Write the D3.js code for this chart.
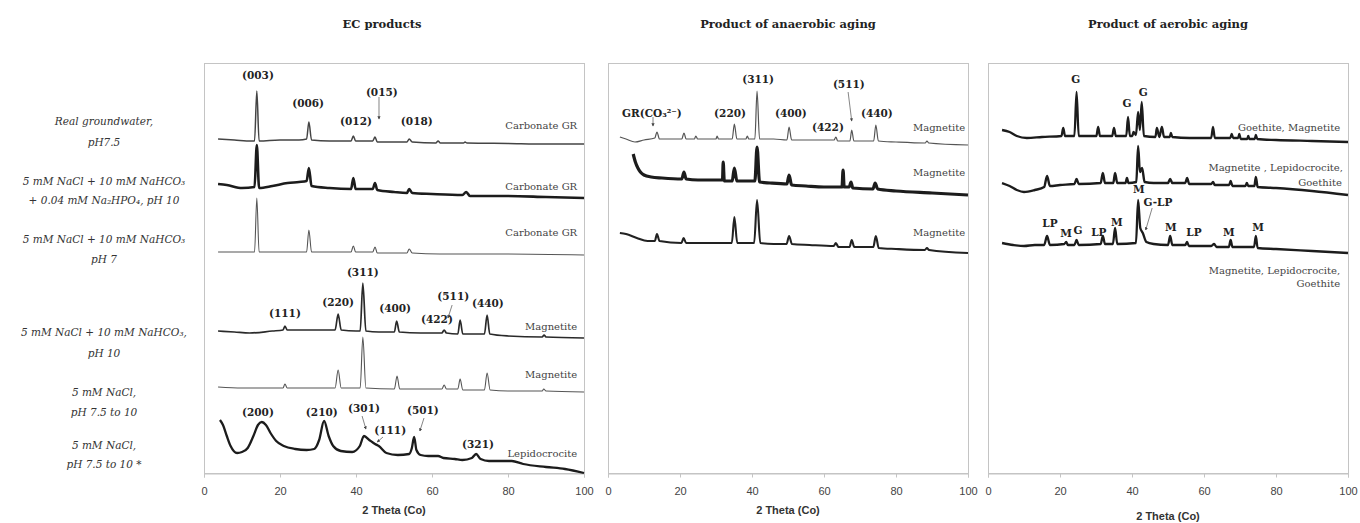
<!DOCTYPE html>
<meta charset="utf-8">
<style>
  body { margin: 0; background: #fff; }
  .box { fill: none; stroke: #c4c4c4; stroke-width: 1; }
  .tick line { stroke: #c4c4c4; }
  .tick text { font-family: "Liberation Sans", Arial, sans-serif; font-size: 11px; fill: #444; }
  .ptitle { font-family: "DejaVu Serif", serif; font-weight: bold; font-size: 11.5px; fill: #222; }
  .xtitle { font-family: "Liberation Sans", Arial, sans-serif; font-weight: bold; font-size: 11px; fill: #333; }
  .peak { font-family: "DejaVu Serif", serif; font-weight: bold; font-size: 10.5px; fill: #222; }
  .cname { font-family: "DejaVu Serif", serif; font-size: 10px; fill: #444; }
  .rowlab { font-family: "DejaVu Serif", serif; font-style: italic; font-size: 10.5px; fill: #333; }
</style>
<body>
<div id="chart"></div>
<script src="https://cdnjs.cloudflare.com/ajax/libs/d3/7.8.5/d3.min.js"></script>
<script>

// --- XRD patterns, [2 theta, intensity (a.u., offset stacked)] ---

// EC products
let ecGroundwater = [[3.7,334],[8,333],[12.5,332],[13.3,332],[13.9,382],[14.5,332],[20,333],[25,333],[27,334],[27.6,351],[28.3,333],[33,332],[38.7,332],[39.3,337],[39.9,332],[44.4,332],[45,336],[45.6,331],[50,331],[53.4,331],[54,334],[54.8,331],[61,330],[61.6,332],[62.2,330],[68.3,330],[68.7,331],[69.2,330],[80,329.5],[90,329],[100,329]];
let ecPhosphate = [[3.7,289],[6,288],[10,285],[13.3,286],[13.9,328],[14.5,285],[18,287],[22,290],[25,291],[27,292],[27.6,305],[28.3,287],[33,285],[38.7,284],[39.3,295],[39.9,284],[44.4,284],[45,290],[45.6,283],[50,281],[53.4,280],[54,284],[54.8,280],[60,279],[68,278],[69,281],[70,277],[80,277],[90,276],[100,275]];
let ecBicarbPh7 = [[3.7,221],[10,221],[13.3,221],[13.9,275],[14.5,221],[20,221],[27,221],[27.6,243],[28.3,221],[38.7,221],[39.3,227],[39.9,221],[44.4,221],[45,226],[45.6,220],[53.4,220],[54,224],[54.8,220],[62,219],[70,219],[80,219],[100,218]];
let ecBicarbPh10 = [[3.7,142],[8,141],[12,140],[18,142],[20.8,143],[21.3,147],[21.9,143],[28,143],[34.5,143],[35.3,159],[36.1,143],[40,142],[41.1,142],[41.8,190],[42.6,142],[46,141],[50.1,141],[50.7,152],[51.4,141],[57,140],[62.6,140],[63.2,143],[63.8,140],[66.8,139],[67.4,153],[68.1,139],[73.8,139],[74.5,158],[75.2,139],[80,137],[89,136],[89.5,138],[90,136],[100,135]];
let ecNaCl = [[3.7,86],[10,85],[18,85],[20.8,85],[21.3,89],[21.9,85],[28,85],[34.5,85],[35.3,103],[36.1,85],[41.1,85],[41.8,136],[42.6,85],[50.1,84],[50.8,97],[51.5,84],[57,84],[62.6,84],[63.2,88],[63.8,84],[66.8,84],[67.4,94],[68.1,83],[73.8,83],[74.5,100],[75.3,83],[80,82],[89,82],[89.4,84],[90,82],[100,81]];
let ecNaClStar = [[4.2,53],[5,48],[6,37],[7,27],[8.7,20],[10,21],[11.5,25],[13,37],[14.2,48],[15.2,51],[16.3,48],[17.5,40],[19,32],[21,27],[24,24],[27,23],[29,24],[30.3,33],[31.6,52],[32.8,37],[34,27],[36,22],[39,21],[41,27],[42.1,37],[43.5,33],[45,29],[46,27],[48,20],[51,18],[54,19],[54.7,25],[55.3,36],[55.9,23],[57,18],[59,17],[61.6,17],[63,15],[66,14],[68,13],[70.5,15],[71.6,19],[72.8,14],[75,12],[78,12],[81,12],[84,9],[90,6],[95,4],[100,0]];

// anaerobic aging
let anGroundwater = [[3.3,336],[5,334],[7.5,331],[10,333],[13,335],[13.6,341],[14.3,334],[20.5,334],[21.1,340],[21.7,334],[24,334],[24.4,337],[24.9,334],[30,334],[30.3,337],[30.7,334],[34.5,334],[35.1,349],[35.8,334],[38.3,334],[38.7,337],[39.1,334],[40.8,334],[41.4,382],[42.1,334],[46,334],[49.7,333],[50.3,346],[51,333],[57,333],[62.8,333],[63.3,336],[63.8,332],[67.2,332],[67.7,343],[68.3,332],[73.8,332],[74.4,348],[75.1,332],[80,331],[88.1,330],[88.6,332],[89.1,330],[100,328]];
let anPhosphate = [[7,319],[7.6,311],[8.3,305],[9,301],[10,298],[12,296],[15,295],[20.5,294],[21.1,301],[21.7,294],[25,293],[30,293],[31.8,293],[32,311],[32.3,292],[34.5,292],[35.1,305],[35.8,292],[40.8,292],[41.4,326],[42.1,291],[45,290],[49.7,289],[50.3,298],[51,288],[55,287],[60,286],[65,286],[65.3,303],[65.6,286],[67,286],[67.5,291],[68,285],[73.6,284],[74.2,290],[74.9,284],[80,282],[90,280],[100,278]];
let anBicarb = [[3.3,240],[5,239],[8,235],[11,232],[13,232],[13.6,239],[14.3,232],[20.4,230],[21,235],[21.7,230],[28,230],[34.4,230],[35.1,256],[35.9,230],[40.6,230],[41.4,273],[42.3,230],[46,229],[49.6,229],[50.3,237],[51.1,229],[56,228],[62.7,227],[63.3,230],[64,226],[67.1,226],[67.7,233],[68.4,226],[73.7,226],[74.4,237],[75.2,225],[80,224],[88,223],[88.6,225],[89.2,223],[100,220]];

// aerobic aging
let aeGroundwater = [[3.9,343],[6,341],[8,337],[10.8,335],[15,336],[20.4,337],[20.9,345],[21.4,337],[24,337],[24.6,381],[25.2,337],[30.1,337],[30.6,346],[31.1,337],[34.5,337],[35,345],[35.5,337],[38.4,337],[38.9,356],[39.4,337],[40.1,337],[40.4,341],[41.1,338],[41.7,361],[42.2,343],[42.7,371],[43.3,337],[46.5,336],[46.9,345],[47.6,336],[48.3,346],[48.9,336],[50.5,336],[50.8,340],[51.2,336],[56,335],[62,335],[62.5,346],[63,335],[67.3,335],[67.7,339],[68.1,335],[69.5,335],[69.8,339],[70.2,334],[72,334],[72.3,337],[72.6,334],[74.1,334],[74.4,338],[74.8,334],[80,333],[90,332],[100,331]];
let aePhosphate = [[3.9,290],[6,287],[8,283],[10,281],[13,283],[15.6,286],[16.4,297],[17.2,287],[20,288],[24,289],[24.6,294],[25.2,289],[31.3,290],[31.9,300],[32.5,290],[34.8,290],[35.3,300],[35.9,290],[38.2,290],[38.6,295],[39,290],[41.2,291],[41.7,327],[42.2,301],[42.8,305],[43.5,291],[46,290],[50,290],[50.6,294],[51.2,290],[54.8,290],[55.3,295],[55.9,289],[62,289],[62.5,291],[63,288],[67,288],[67.4,292],[67.9,287],[71.5,287],[71.9,290],[72.3,287],[74,287],[74.4,296],[74.9,286],[80,285],[90,282],[100,278]];
let aeBicarb = [[3.9,230],[7,228],[10,227],[13,228],[15.6,228],[16.4,237],[17.2,228],[21.2,229],[21.7,231],[22.2,228],[24,228],[24.6,233],[25.2,228],[31.3,229],[31.9,237],[32.5,229],[34.7,229],[35.3,245],[35.9,229],[41.1,230],[41.7,273],[42.3,245],[43,240],[44,231],[46,229],[50,228],[50.6,237],[51.2,228],[54.8,228],[55.3,231],[55.8,227],[62,227],[62.8,229],[63.5,226],[66.9,226],[67.4,233],[67.9,226],[73.9,226],[74.4,237],[74.9,225],[80,224],[90,222],[100,220]];

// peak labels [2 theta, a.u., text]
let ecPeaks = [[14.2,398,"(003)"],[27.4,370,"(006)"],[40,352,"(012)"],[46.8,381,"(015)"],[56,352,"(018)"],
  [21.3,160,"(111)"],[35.3,171,"(220)"],[41.8,201,"(311)"],[50.3,165,"(400)"],[61.3,154,"(422)"],[65.6,177,"(511)"],[74.7,170,"(440)"],
  [14.2,61,"(200)"],[31,61,"(210)"],[42.1,65,"(301)"],[49,43,"(111)"],[57.6,63,"(501)"],[72.1,29,"(321)"]];
let anPeaks = [[12.2,360,"GR(CO₃²⁻)"],[33.9,360,"(220)"],[41.7,394,"(311)"],[50.8,360,"(400)"],[61.1,346,"(422)"],[66.9,389,"(511)"],[74.7,360,"(440)"]];
let aePeaks = [[24.4,394,"G"],[38.6,370,"G"],[43.1,381,"G"],[41.9,284,"M"],[47.2,271,"G-LP"],
  [17.2,250,"LP"],[21.7,240,"M"],[25,243,"G"],[30.8,241,"LP"],[35.8,251,"M"],[50.8,246,"M"],[57.2,241,"LP"],[66.9,241,"M"],[75,246,"M"]];

// arrows [from 2θ, from a.u., to 2θ, to a.u.]
let ecArrows = [[46.05,376,46.05,354],[65.3,168,64.2,155],[41.6,57,42.6,44],[47.1,36,45.6,31],[57.9,55,56.8,42]];
let anArrows = [[12.5,356,12.5,347],[66.7,381,67.7,352]];
let aeArrows = [[45.6,265,43.8,243]];

// phase names [2 theta (right end), a.u., text]
let ecNames = [[98.2,348,"Carbonate GR"],[98.2,287,"Carbonate GR"],[98.2,241,"Carbonate GR"],[98.2,147,"Magnetite"],[98.2,99,"Magnetite"],[98.2,20,"Lepidocrocite"]];
let anNames = [[99.2,346,"Magnetite"],[99.2,301,"Magnetite"],[99.2,241,"Magnetite"]];
let aeNames = [[97.8,346,"Goethite, Magnetite"],[98.6,306,"Magnetite , Lepidocrocite,"],[98.3,291,"Goethite"],[97.8,203,"Magnetite, Lepidocrocite,"],[97.8,190,"Goethite"]];

// sample names (two lines each) and their a.u. level on the left
let sampleLines = [["Real  groundwater,", 352],["pH7.5", 331],
  ["5 mM NaCl + 10 mM NaHCO₃", 292],["+ 0.04 mM Na₂HPO₄, pH 10", 273],
  ["5 mM NaCl + 10 mM NaHCO₃", 234],["pH 7", 214],
  ["5 mM NaCl + 10 mM NaHCO₃,", 141],["pH 10", 120],
  ["5 mM NaCl,", 81],["pH 7.5 to 10", 61],
  ["5 mM NaCl,", 28],["pH 7.5 to 10 *", 9]];

let xTicks = [0, 20, 40, 60, 80, 100];
let xLabel = "2 Theta (Co)";

// --- layout ---
let width = 1360, height = 523;
let plotTop = 63, plotBottom = 473;

let svg = d3.select("#chart").append("svg")
            .attr("width", width)
            .attr("height", height);

let y = d3.scaleLinear().domain([0, 410]).range([plotBottom, plotTop]);

svg.append("defs").append("marker")
   .attr("id", "head")
   .attr("viewBox", "0 0 6 6")
   .attr("refX", 5).attr("refY", 3)
   .attr("markerWidth", 4).attr("markerHeight", 4)
   .attr("orient", "auto")
   .append("path").attr("d", "M0,0L6,3L0,6Z").attr("fill", "#444");

let panels = [
  {title: "EC products", left: 204, right: 584, titleDx: -12, labelY: 514,
   series: [[ecGroundwater, 1.5, "#444"], [ecPhosphate, 2.6, "#1c1c1c"], [ecBicarbPh7, 1.1, "#555"],
            [ecBicarbPh10, 1.7, "#2a2a2a"], [ecNaCl, 1.1, "#555"], [ecNaClStar, 2.3, "#1c1c1c"]],
   peaks: ecPeaks, arrows: ecArrows, names: ecNames},
  {title: "Product of anaerobic aging", left: 608, right: 968, titleDx: 0, labelY: 514,
   series: [[anGroundwater, 1.2, "#555"], [anPhosphate, 3.2, "#1c1c1c"], [anBicarb, 2.1, "#222"]],
   peaks: anPeaks, arrows: anArrows, names: anNames},
  {title: "Product of aerobic aging", left: 988, right: 1348, titleDx: 0, labelY: 520,
   series: [[aeGroundwater, 2.3, "#1c1c1c"], [aePhosphate, 2.4, "#1c1c1c"], [aeBicarb, 2.3, "#1c1c1c"]],
   peaks: aePeaks, arrows: aeArrows, names: aeNames}
];

panels.forEach(p => {
  let x = d3.scaleLinear().domain([0, 100]).range([p.left, p.right]);
  let g = svg.append("g");

  g.append("rect").attr("class", "box")
   .attr("x", p.left + 0.5).attr("y", plotTop + 0.5)
   .attr("width", p.right - p.left).attr("height", plotBottom - plotTop);

  let axis = g.append("g")
              .attr("transform", "translate(0," + (plotBottom + 0.5) + ")")
              .call(d3.axisBottom(x).tickValues(xTicks).tickSize(4).tickPadding(10));
  axis.select(".domain").attr("stroke", "#c4c4c4");

  g.append("text").attr("class", "ptitle")
   .attr("x", (p.left + p.right) / 2 + p.titleDx).attr("y", 28)
   .attr("text-anchor", "middle").text(p.title);

  g.append("text").attr("class", "xtitle")
   .attr("x", (p.left + p.right) / 2).attr("y", p.labelY)
   .attr("text-anchor", "middle").text(xLabel);

  let line = d3.line()
               .x(d => x(d[0]))
               .y(d => y(d[1]))
               .curve(d3.curveMonotoneX);

  g.selectAll("path.xrd")
   .data(p.series)
   .enter().append("path")
    .attr("class", "xrd")
    .attr("d", d => line(d[0]))
    .attr("fill", "none")
    .attr("stroke", d => d[2])
    .attr("stroke-width", d => d[1])
    .attr("stroke-linejoin", "round");

  g.selectAll("line.arrow")
   .data(p.arrows)
   .enter().append("line")
    .attr("x1", d => x(d[0])).attr("y1", d => y(d[1]))
    .attr("x2", d => x(d[2])).attr("y2", d => y(d[3]))
    .attr("stroke", "#666").attr("stroke-width", 0.8)
    .attr("marker-end", "url(#head)");

  g.selectAll("text.peak")
   .data(p.peaks)
   .enter().append("text")
    .attr("class", "peak")
    .attr("x", d => x(d[0])).attr("y", d => y(d[1]) + 3.5)
    .attr("text-anchor", "middle")
    .text(d => d[2]);

  g.selectAll("text.cname")
   .data(p.names)
   .enter().append("text")
    .attr("class", "cname")
    .attr("x", d => x(d[0])).attr("y", d => y(d[1]) + 3.5)
    .attr("text-anchor", "end")
    .text(d => d[2]);
});

// sample names on the left
svg.selectAll("text.rowlab")
   .data(sampleLines)
   .enter().append("text")
    .attr("class", "rowlab")
    .attr("x", 104)
    .attr("y", d => y(d[1]) + 4)
    .attr("text-anchor", "middle")
    .text(d => d[0]);

</script>
</body>
</html>
